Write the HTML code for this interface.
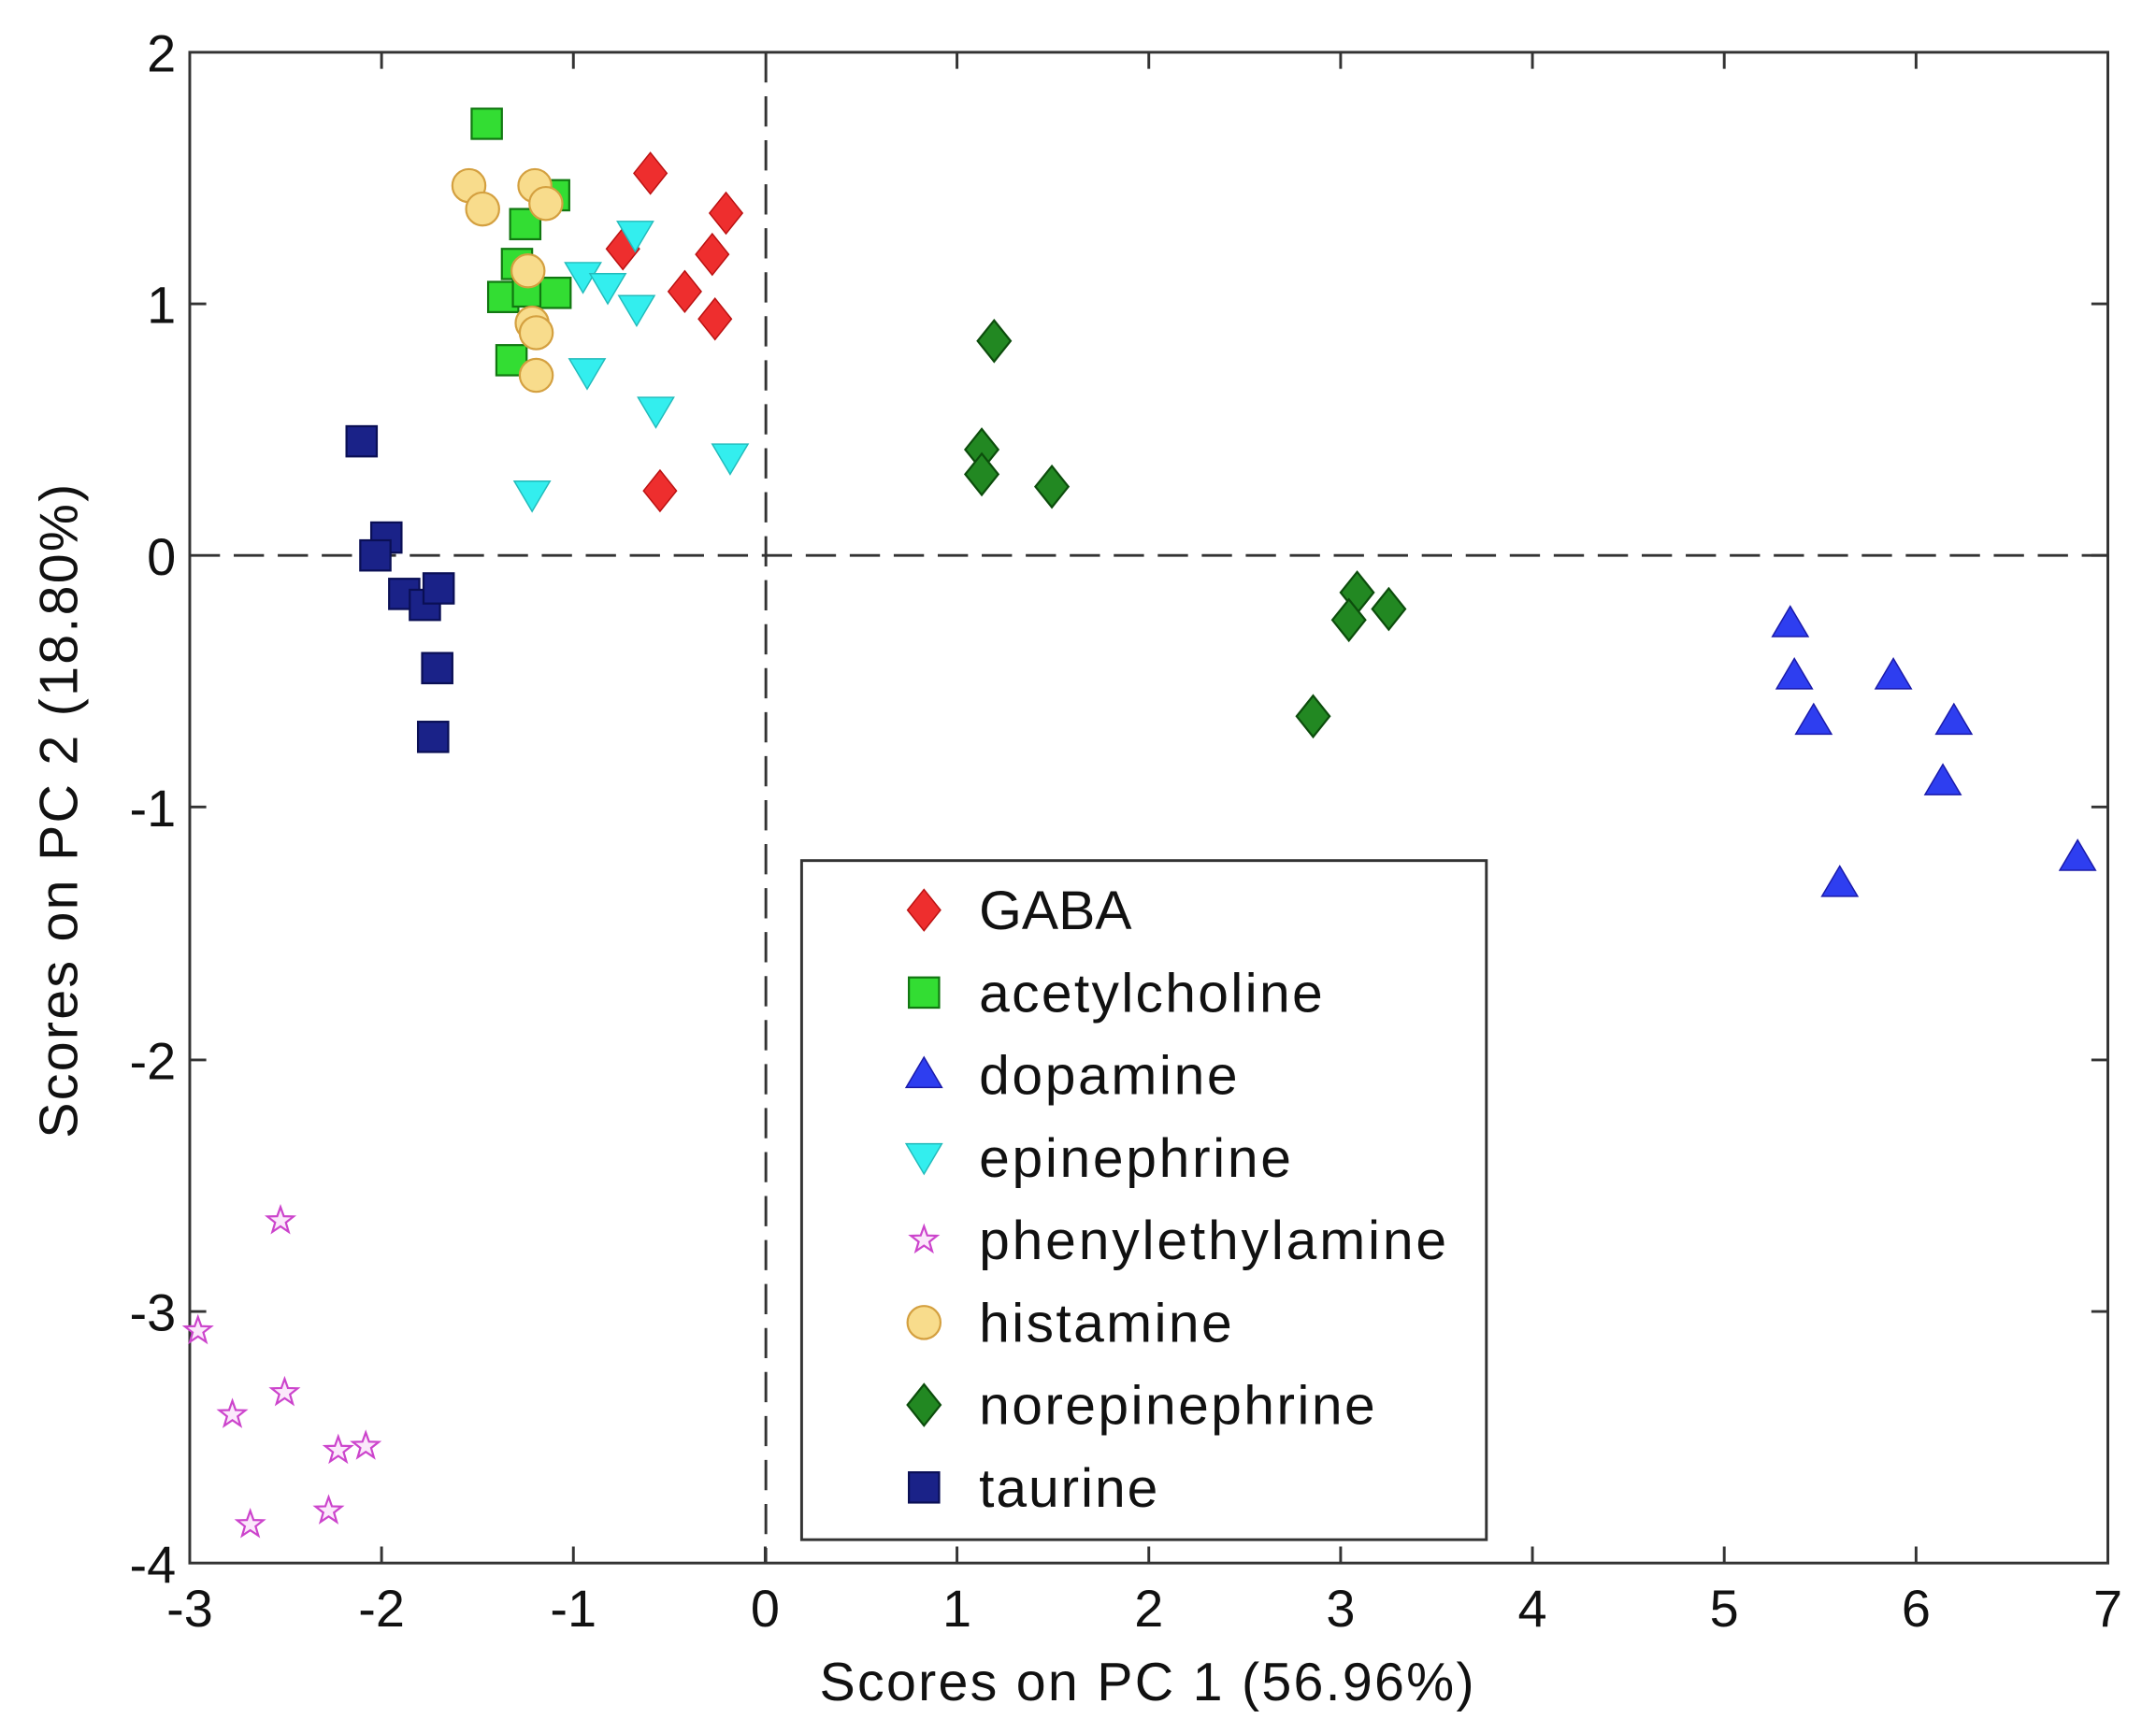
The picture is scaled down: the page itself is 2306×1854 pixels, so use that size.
<!DOCTYPE html>
<html><head><meta charset="utf-8"><style>html,body{margin:0;padding:0;background:#fff}svg{display:block}</style></head>
<body>
<svg width="2306" height="1854" viewBox="0 0 1568 1260.6" xmlns="http://www.w3.org/2000/svg" font-family="Liberation Sans, Arial, sans-serif">
<defs>
<path id="dia" d="M0,-15 L12,0 L0,15 L-12,0Z"/>
<rect id="sq" x="-11" y="-11" width="22" height="22"/>
<path id="tu" d="M0,-11 L13,11 L-13,11Z"/>
<path id="td" d="M0,11 L13,-11 L-13,-11Z"/>
<path id="st" d="M0,-10 L2.4,-3.3 L9.5,-3.1 L3.9,1.3 L5.9,8.1 L0,4.1 L-5.9,8.1 L-3.9,1.3 L-9.5,-3.1 L-2.4,-3.3Z"/>
</defs>
<rect x="138" y="38" width="1395" height="1099" fill="#fff" stroke="#333" stroke-width="2"/>
<g stroke="#333" stroke-width="2">
<line x1="138" y1="404" x2="1533" y2="404" stroke-dasharray="22,10"/>
<line x1="557" y1="38" x2="557" y2="1137" stroke-dasharray="22,10"/>
<path d="M277.5,1137v-12M417,1137v-12M556.5,1137v-12M696,1137v-12M835.5,1137v-12M975,1137v-12M1114.5,1137v-12M1254,1137v-12M1393.5,1137v-12M277.5,38v12M417,38v12M696,38v12M835.5,38v12M975,38v12M1114.5,38v12M1254,38v12M1393.5,38v12"/>
<path d="M138,221h12M138,587h12M138,771h12M138,954h12M1533,221h-12M1533,404h-12M1533,587h-12M1533,771h-12M1533,954h-12"/>
</g>
<g font-size="38" fill="#111" text-anchor="middle">
<text x="138" y="1183">-3</text><text x="277.5" y="1183">-2</text><text x="417" y="1183">-1</text><text x="556.5" y="1183">0</text><text x="696" y="1183">1</text><text x="835.5" y="1183">2</text><text x="975" y="1183">3</text><text x="1114.5" y="1183">4</text><text x="1254" y="1183">5</text><text x="1393.5" y="1183">6</text><text x="1533" y="1183">7</text>
</g>
<g font-size="38" fill="#111" text-anchor="end">
<text x="128" y="52">2</text><text x="128" y="235">1</text><text x="128" y="418">0</text><text x="128" y="601">-1</text><text x="128" y="785">-2</text><text x="128" y="968">-3</text><text x="128" y="1151">-4</text>
</g>
<text x="834" y="1237" font-size="39" text-anchor="middle" textLength="476" fill="#111">Scores on PC 1 (56.96%)</text>
<text transform="translate(56,590) rotate(-90)" font-size="39" text-anchor="middle" textLength="476" fill="#111">Scores on PC 2 (18.80%)</text>
<g fill="#33dd33" stroke="#117711" stroke-width="1.5">
<use href="#sq" x="354" y="90"/><use href="#sq" x="403" y="142"/><use href="#sq" x="382" y="163"/><use href="#sq" x="376" y="192"/><use href="#sq" x="366" y="216"/><use href="#sq" x="384" y="212"/><use href="#sq" x="404" y="213"/><use href="#sq" x="372" y="262"/>
</g>
<g fill="#f8dc8c" stroke="#d4a040" stroke-width="1.5">
<circle cx="341" cy="135" r="12"/><circle cx="351" cy="152" r="12"/><circle cx="389" cy="135" r="12"/><circle cx="397" cy="148" r="12"/><circle cx="384" cy="197" r="12"/><circle cx="387" cy="235" r="12"/><circle cx="390" cy="242" r="12"/><circle cx="390" cy="273" r="12"/>
</g>
<g fill="#ee2e2e" stroke="#bb1111" stroke-width="1">
<use href="#dia" x="473" y="126"/><use href="#dia" x="528" y="155"/><use href="#dia" x="453" y="181"/><use href="#dia" x="518" y="185"/><use href="#dia" x="498" y="212"/><use href="#dia" x="520" y="232"/><use href="#dia" x="480" y="357"/>
</g>
<g fill="#33eeee" stroke="#22bbbb" stroke-width="1">
<use href="#td" x="462" y="172"/><use href="#td" x="424" y="202"/><use href="#td" x="442" y="210"/><use href="#td" x="463" y="226"/><use href="#td" x="427" y="272"/><use href="#td" x="477" y="300"/><use href="#td" x="531" y="334"/><use href="#td" x="387" y="361"/>
</g>
<g fill="#228822" stroke="#0c4d0c" stroke-width="1.5">
<use href="#dia" x="723" y="248"/><use href="#dia" x="714" y="327"/><use href="#dia" x="714" y="345"/><use href="#dia" x="765" y="354"/><use href="#dia" x="987" y="431"/><use href="#dia" x="981" y="451"/><use href="#dia" x="1010" y="443"/><use href="#dia" x="955" y="521"/>
</g>
<g fill="#2e3ef0" stroke="#1a1aaa" stroke-width="1">
<use href="#tu" x="1302" y="452"/><use href="#tu" x="1305" y="490"/><use href="#tu" x="1377" y="490"/><use href="#tu" x="1319" y="523"/><use href="#tu" x="1421" y="523"/><use href="#tu" x="1413" y="567"/><use href="#tu" x="1511" y="622"/><use href="#tu" x="1338" y="641"/>
</g>
<g fill="#1a2288" stroke="#0a0f55" stroke-width="1.5">
<use href="#sq" x="263" y="321"/><use href="#sq" x="281" y="391"/><use href="#sq" x="273" y="404"/><use href="#sq" x="294" y="432"/><use href="#sq" x="309" y="440"/><use href="#sq" x="319" y="428"/><use href="#sq" x="318" y="486"/><use href="#sq" x="315" y="536"/>
</g>
<g fill="#fbe8fb" stroke="#cc44cc" stroke-width="1.5">
<use href="#st" x="204" y="888"/><use href="#st" x="144" y="968"/><use href="#st" x="169" y="1029"/><use href="#st" x="207" y="1013"/><use href="#st" x="246" y="1055"/><use href="#st" x="266" y="1052"/><use href="#st" x="182" y="1109"/><use href="#st" x="239" y="1099"/>
</g>
<rect x="583" y="626" width="498" height="494" fill="#fff" stroke="#333" stroke-width="2"/>
<use href="#dia" x="672" y="662" fill="#ee2e2e" stroke="#bb1111"/>
<rect x="661" y="711" width="22" height="22" fill="#33dd33" stroke="#117711" stroke-width="1.5"/>
<use href="#tu" x="672" y="780" fill="#2e3ef0" stroke="#1a1aaa"/>
<use href="#td" x="672" y="843" fill="#33eeee" stroke="#22bbbb"/>
<use href="#st" x="672" y="902" fill="#fbe8fb" stroke="#cc44cc" stroke-width="1.5"/>
<circle cx="672" cy="962" r="12" fill="#f8dc8c" stroke="#d4a040" stroke-width="1.5"/>
<use href="#dia" x="672" y="1022" fill="#228822" stroke="#0c4d0c" stroke-width="1.5"/>
<rect x="661" y="1071" width="22" height="22" fill="#1a2288" stroke="#0a0f55" stroke-width="1.5"/>
<g font-size="40" fill="#111">
<text x="712" y="676">GABA</text>
<text x="712" y="736" textLength="250">acetylcholine</text>
<text x="712" y="796" textLength="188">dopamine</text>
<text x="712" y="856" textLength="227">epinephrine</text>
<text x="712" y="916" textLength="340">phenylethylamine</text>
<text x="712" y="976" textLength="184">histamine</text>
<text x="712" y="1036" textLength="288">norepinephrine</text>
<text x="712" y="1096" textLength="130">taurine</text>
</g>
</svg>
</body></html>
